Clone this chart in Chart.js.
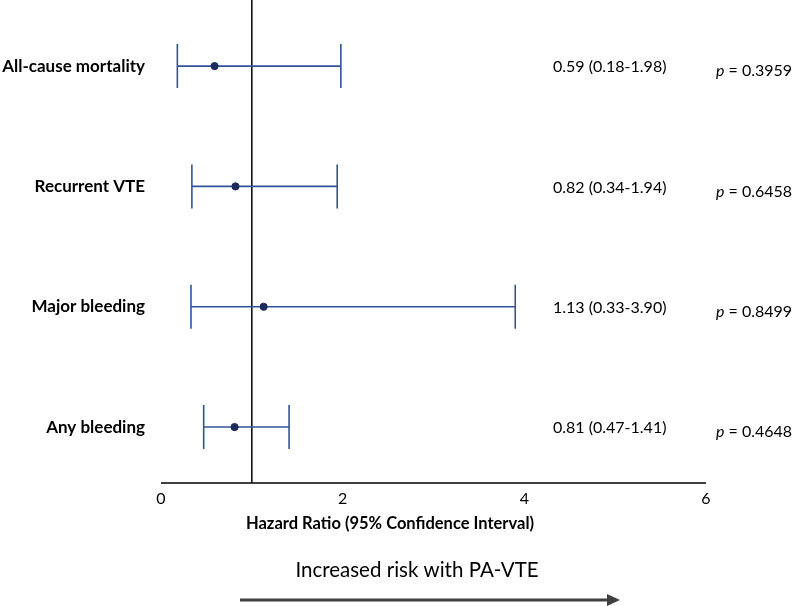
<!DOCTYPE html>
<html>
<head>
<meta charset="utf-8">
<script src="https://cdn.jsdelivr.net/npm/chart.js@4.4.1/dist/chart.umd.min.js"></script>
<style>
html,body{margin:0;padding:0;background:#fff}
#wrap{width:800px;height:606px;position:relative}
</style>
</head>
<body>
<div id="wrap"><canvas id="forest"></canvas></div>
<script>

const outcomes=["All-cause mortality","Recurrent VTE","Major bleeding","Any bleeding"]
const hazard=[0.59,0.82,1.13,0.81]
const lower=[0.18,0.34,0.33,0.47]
const upper=[1.98,1.94,3.90,1.41]
const hrText=["0.59 (0.18-1.98)","0.82 (0.34-1.94)","1.13 (0.33-3.90)","0.81 (0.47-1.41)"]
const pText=["0.3959","0.6458","0.8499","0.4648"]
const xTicks=[0,2,4,6]

const FONT="Lato, 'Open Sans', sans-serif"
const BAR="#2F5597"
const DOT="#1C2A5E"

// error bars, reference line at HR = 1, side texts and the arrow
const forestPlugin={
id:"forest",
beforeDatasetsDraw(chart){
const ctx=chart.ctx
const x=chart.scales.x
const y=chart.scales.y
const area=chart.chartArea

ctx.save()

// axis line
ctx.strokeStyle="#000"
ctx.lineWidth=1.5
ctx.beginPath()
ctx.moveTo(x.getPixelForValue(0),area.bottom)
ctx.lineTo(x.getPixelForValue(6),area.bottom)
ctx.stroke()

// no effect line
ctx.beginPath()
ctx.moveTo(x.getPixelForValue(1),0)
ctx.lineTo(x.getPixelForValue(1),area.bottom)
ctx.stroke()

ctx.strokeStyle=BAR
ctx.lineWidth=1.6
outcomes.forEach((o,i)=>{
const py=y.getPixelForValue(i)
const x1=x.getPixelForValue(lower[i])
const x2=x.getPixelForValue(upper[i])
ctx.beginPath()
ctx.moveTo(x1,py)
ctx.lineTo(x2,py)
ctx.moveTo(x1,py-22)
ctx.lineTo(x1,py+22)
ctx.moveTo(x2,py-22)
ctx.lineTo(x2,py+22)
ctx.stroke()
})

ctx.restore()
},
afterDraw(chart){
const ctx=chart.ctx
const y=chart.scales.y

ctx.save()
ctx.fillStyle="#000"
ctx.textBaseline="middle"
ctx.textAlign="left"

outcomes.forEach((o,i)=>{
const py=y.getPixelForValue(i)
ctx.font="16px "+FONT
ctx.fillText(hrText[i],553,py+1)
ctx.font="italic 16px "+FONT
ctx.fillText("p",716,py+5)
const pw=ctx.measureText("p").width
ctx.font="16px "+FONT
ctx.fillText(" = "+pText[i],716+pw,py+5)
})

// axis title
ctx.textAlign="center"
ctx.font="bold 16.5px "+FONT
ctx.fillText("Hazard Ratio (95% Confidence Interval)",390,524)

// arrow caption
ctx.font="20.5px "+FONT
ctx.fillText("Increased risk with PA-VTE",417,570)

ctx.strokeStyle="#404040"
ctx.fillStyle="#404040"
ctx.lineWidth=3
ctx.beginPath()
ctx.moveTo(240,600)
ctx.lineTo(610,600)
ctx.stroke()
ctx.beginPath()
ctx.moveTo(620,600)
ctx.lineTo(607,594)
ctx.lineTo(607,606)
ctx.closePath()
ctx.fill()

ctx.restore()
}
}

const points=hazard.map((h,i)=>({x:h,y:i}))

new Chart(document.getElementById("forest"),{
type:"scatter",
data:{
datasets:[{
data:points,
pointRadius:3.6,
pointBackgroundColor:DOT,
pointBorderColor:DOT,
pointHoverRadius:3.6
}]
},
options:{
responsive:true,
maintainAspectRatio:false,
animation:false,
layout:{padding:{top:0,right:94,left:0,bottom:0}},
plugins:{legend:{display:false},tooltip:{enabled:false}},
scales:{
x:{
type:"linear",
min:0,
max:6,
afterBuildTicks(scale){
scale.ticks=xTicks.map(v=>({value:v}))
},
afterFit(scale){
scale.height=123
scale.paddingLeft=0
scale.paddingRight=0
},
grid:{display:false,drawTicks:false},
border:{display:false},
ticks:{
padding:6,
color:"#000",
font:{family:FONT,size:16},
maxRotation:0
}
},
y:{
type:"linear",
reverse:true,
min:-0.511,
max:3.465,
afterBuildTicks(scale){
scale.ticks=outcomes.map((o,i)=>({value:i}))
},
afterFit(scale){
scale.width=161
scale.paddingTop=0
scale.paddingBottom=0
},
grid:{display:false,drawTicks:false},
border:{display:false},
ticks:{
padding:16,
color:"#000",
font:{family:FONT,size:17,weight:"bold"},
callback:v=>outcomes[v]
}
}
}
},
plugins:[forestPlugin]
})

</script>
</body>
</html>
